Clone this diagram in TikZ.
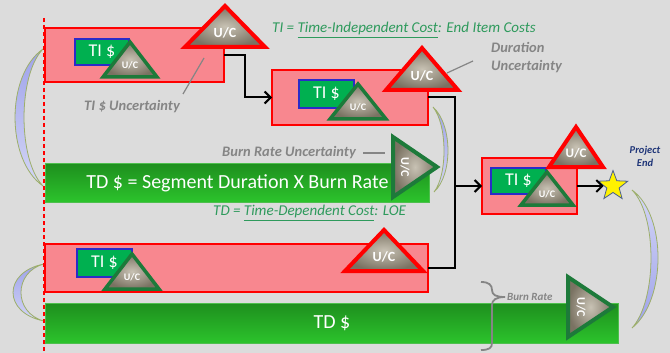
\documentclass[tikz,border=0pt]{standalone}
\usepackage{fontspec}
\setmainfont{Carlito}
\usetikzlibrary{arrows.meta,shapes.geometric,calc}
\definecolor{bg}{HTML}{DCDCDC}
\definecolor{pinkf}{HTML}{F8878F}
\definecolor{redb}{HTML}{FF0000}
\definecolor{tigreen}{HTML}{00B050}
\definecolor{tiblue}{HTML}{2B2BC8}
\definecolor{ucdark}{HTML}{7A7262}
\definecolor{uclight}{HTML}{C8C2B4}
\definecolor{gborder}{HTML}{1D7A3A}
\definecolor{bartop}{HTML}{1E8F1E}
\definecolor{barbot}{HTML}{2CC42C}
\definecolor{barline}{HTML}{4DBF4D}
\definecolor{lblgray}{HTML}{858585}
\definecolor{lblgreen}{HTML}{2E9A5C}
\definecolor{pend}{HTML}{1F3578}
\definecolor{crescd}{HTML}{9EA2EA}
\definecolor{crescl}{HTML}{D4D6F6}
\definecolor{cline}{HTML}{9DAF6A}
\definecolor{starline}{HTML}{4A6090}
\tikzset{
 redbox/.style={draw=redb, line width=2.4pt, fill=pinkf, anchor=north west, inner sep=0pt, outer sep=0pt},
 tibox/.style={draw=tiblue, line width=1.8pt, fill=tigreen, anchor=north west, inner sep=0pt, text=white, font=\fontsize{18}{18}\selectfont},
 bar/.style={draw=barline, line width=1pt, top color=bartop, bottom color=barbot, anchor=north west, inner sep=0pt, text=white},
 conn/.style={line width=2pt, -{Straight Barb[length=6pt,width=12pt,line width=2pt]}},
 plainconn/.style={line width=2pt},
 ucfill/.style={shading=radial, inner color=uclight, outer color=ucdark, line join=miter},
 grylbl/.style={text=lblgray, font=\fontsize{14.5}{18}\selectfont\bfseries\itshape, inner sep=0pt},
 grnlbl/.style={text=lblgreen, font=\fontsize{15}{16}\selectfont\itshape, inner sep=0pt},
 leader/.style={draw=lblgray, line width=1.2pt},
 cresc/.style={draw=cline, line width=0.8pt, top color=crescd, bottom color=crescl},
}
\newcommand\uctri[7]{%
 \draw[ucfill, line width=#6, draw=#5] (#1,#2) -- ++(#3,#4) -- ++(-2*#3,0) -- cycle;
 \node[text=white, font=#7, inner sep=0pt] at (#1,#2+0.66*#4) {U/C};
}
\begin{document}
\begin{tikzpicture}[x=1pt,y=-1pt]
\fill[bg] (0,0) rectangle (670,353);
\useasboundingbox (0,0) rectangle (670,353);

% crescents
\draw[cresc] (43,49) .. controls (5.7,75) and (5.7,160) .. (43,186) .. controls (17.7,160) and (17.7,75) .. (43,49) -- cycle;
\draw[cresc] (433,107) .. controls (452.8,125) and (452.8,175) .. (434,192) .. controls (447.5,175) and (447.5,125) .. (433,107) -- cycle;
\draw[cresc] (44,264) .. controls (2.7,272) and (2.7,313) .. (44,321) .. controls (13.3,313) and (13.3,272) .. (44,264) -- cycle;
\draw[cresc, top color=crescl, bottom color=crescd] (632,190) .. controls (666.7,215) and (666.7,300) .. (632,328) .. controls (657.3,300) and (657.3,215) .. (632,190) -- cycle;

% boxes
\node[redbox, minimum width=179pt, minimum height=54pt] (b1) at (45,28) {};
\node[redbox, minimum width=156pt, minimum height=55pt] (b2) at (272,70) {};
\node[redbox, minimum width=95pt, minimum height=56pt] (b3) at (482,158) {};
\node[redbox, minimum width=383pt, minimum height=48pt] (b4) at (45,244) {};
\node[bar, minimum width=384pt, minimum height=39pt, font=\fontsize{20}{20}\selectfont] (g1) at (45,163) {TD \$ = Segment Duration X Burn Rate};
\node[bar, minimum width=573pt, minimum height=40pt, font=\fontsize{20}{20}\selectfont] (g2) at (45,303) {TD \$};

% connectors
\coordinate (j1) at (245,0);
\coordinate (j2) at (455,0);
\draw[conn] (b1.east) -| (j1 |- b2.west) -- (b2.west);
\draw[plainconn] (b2.east) -| (j2 |- b4.east) -- (b4.east);
\draw[conn] (j2 |- b3.west) -- (b3.west);
\node[star, star points=5, star point ratio=2.4, minimum size=31pt, inner sep=0pt, fill=yellow, draw=starline, line width=0.8pt] (st) at (613,186) {};
\draw[conn] (b3.east) -- (st.west);

% TI boxes
\node[tibox, minimum width=54pt, minimum height=26pt] (t1) at (74,38) {TI \$};
\node[tibox, minimum width=55pt, minimum height=28pt] (t2) at (298,79) {TI \$};
\node[tibox, minimum width=55pt, minimum height=26pt] (t3) at (490,167) {TI \$};
\node[tibox, minimum width=55pt, minimum height=28pt] (t4) at (76,248) {TI \$};

% small green triangles
\uctri{130}{42}{27}{35}{gborder}{3.5pt}{\fontsize{10}{10}\selectfont\bfseries}
\uctri{358}{84}{28}{35}{gborder}{3.5pt}{\fontsize{10}{10}\selectfont\bfseries}
\uctri{547}{172}{26}{33}{gborder}{3.5pt}{\fontsize{10}{10}\selectfont\bfseries}
\uctri{132}{254}{27}{35}{gborder}{3.5pt}{\fontsize{10}{10}\selectfont\bfseries}

% big red triangles
\uctri{225}{6}{40}{41}{redb}{4pt}{\fontsize{14}{14}\selectfont\bfseries}
\uctri{422}{48}{36}{42}{redb}{4pt}{\fontsize{14}{14}\selectfont\bfseries}
\uctri{576}{127}{27}{40}{redb}{4pt}{\fontsize{13}{13}\selectfont\bfseries}
\uctri{384}{230}{39}{41}{redb}{4pt}{\fontsize{14}{14}\selectfont\bfseries}

% right-pointing green triangles
\draw[ucfill, draw=gborder, line width=4pt] (393,137) -- (437,167) -- (393,197) -- cycle;
\node[text=white, font=\fontsize{12}{12}\selectfont\bfseries, rotate=-90, inner sep=0pt] at (405,167) {U/C};
\draw[ucfill, draw=gborder, line width=4pt] (568,277) -- (613,307) -- (568,337) -- cycle;
\node[text=white, font=\fontsize{12}{12}\selectfont\bfseries, rotate=-90, inner sep=0pt] at (581,307) {U/C};

% labels
\node[grylbl] (l1) at (132,107) {TI \$ Uncertainty};
\draw[leader] (204,58) -- (183,94);
\node[grnlbl, anchor=west] (l2) at (272,30) {TI = \underline{Time-Independent Cost}: End Item Costs};
\node[grylbl, anchor=north west, align=left] (l3) at (491,42) {Duration\\Uncertainty};
\draw[leader] (447,73) -- (473,61);
\node[grylbl, anchor=east] (l4) at (356,153) {Burn Rate Uncertainty};
\draw[leader] (363,153) -- (385,153);
\node[grnlbl, anchor=west] (l5) at (213,213) {TD = \underline{Time-Dependent Cost}: LOE};
\node[text=pend, font=\fontsize{10.5}{13}\selectfont\bfseries\itshape, align=center, inner sep=0pt] (pe) at (645,156) {Project\\End};
\node[text=lblgray, font=\fontsize{11}{11}\selectfont\bfseries\itshape, anchor=west, inner sep=0pt] (br) at (507,297) {Burn Rate};
\draw[lblgray, line width=1.8pt] (481,282) .. controls (489,282) and (492,285) .. (492,290) .. controls (492,295) and (496,297) .. (505,297);
\draw[lblgray, line width=1.8pt] (505,297) .. controls (496,297) and (492,300) .. (492,305) -- (492,343) .. controls (492,348) and (489,350) .. (481,350);

% red dashed line
\draw[redb, line width=1.5pt, dash pattern=on 4pt off 3pt] (44,18) -- (44,353);
\end{tikzpicture}
\end{document}
